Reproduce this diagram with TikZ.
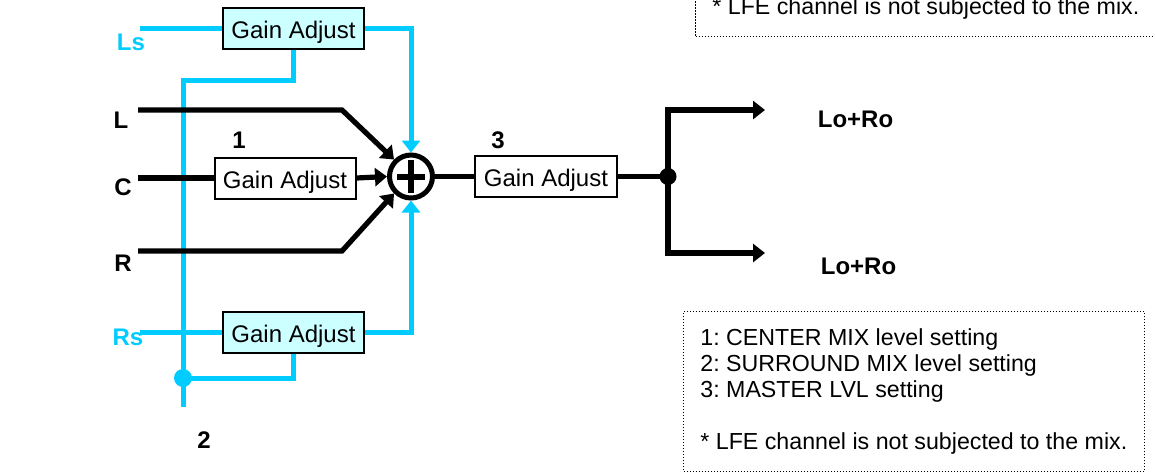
\documentclass[tikz,border=0pt]{standalone}
\usepackage{fontspec}
\setmainfont{Liberation Sans}
\usepackage{tikz}
\usetikzlibrary{arrows.meta,positioning}
\definecolor{mxsurround}{HTML}{00CCFF}
\definecolor{mxsurroundsoft}{HTML}{CCFFFF}
\newcommand{\mixnotes}{1: CENTER MIX level setting\\2: SURROUND MIX level setting\\3: MASTER LVL setting\\[13pt]* LFE channel is not subjected to the mix.}
\tikzset{
  gain/.style={draw=black,line width=1pt,fill=white,minimum width=70.5pt,minimum height=20.5pt,
    inner sep=0pt,text height=10pt,text depth=0pt,font=\fontsize{12}{14}\selectfont},
  gainsurr/.style={gain,fill=mxsurroundsoft},
  chan/.style={inner sep=0pt,font=\fontsize{12}{14}\selectfont\bfseries},
  chansurr/.style={chan,text=mxsurround},
  summer/.style={circle,draw=black,line width=2.5pt,minimum size=21.5pt,inner sep=0pt},
  junction/.style={circle,fill=black,minimum size=8.5pt,inner sep=0pt},
  junctionsurr/.style={junction,fill=mxsurround,minimum size=9pt},
  sig/.style={draw=black,line width=2.6pt},
  sigflow/.style={sig,-{Triangle[length=6pt,width=9pt]}},
  surr/.style={draw=mxsurround,line width=2.5pt},
  surrflow/.style={surr,-{Triangle[length=6pt,width=9pt]}},
  notebox/.style={draw=black,line width=0.6pt,dash pattern=on 0.6pt off 0.9pt,anchor=north west,
    minimum width=230.5pt,minimum height=79.85pt,inner sep=0pt},
  notetext/.style={align=left,inner sep=0pt,font=\fontsize{11.6}{13}\selectfont\frenchspacing}
}

\begin{document}
\begin{tikzpicture}[x=0.5pt,y=-0.5pt]
    \clip (0,0) rectangle (1155,473);
    \node[gainsurr] (gLs) at (293.5,28.5) {Gain Adjust};
    \node[gain] (gC) at (285,178) {Gain Adjust};
    \node[gainsurr] (gRs) at (293.5,332.5) {Gain Adjust};
    \node[summer] (sum) at (411,176.5) {};
    \node[gain,minimum width=71pt] (gM) at (546,176.5) {Gain Adjust};
    \node[junction] (split) at (668,176.5) {};
    \node[junctionsurr] (tap) at (183,378) {};
    \coordinate (inLs) at (140,28.5);
    \coordinate (inL) at (138,110);
    \coordinate (inC) at (138,178);
    \coordinate (inR) at (138,251);
    \coordinate (inRs) at (140,332.5);
    \coordinate (kneeL) at (342,110);
    \coordinate (kneeR) at (342,251);
    \coordinate (busTop) at (183,80);
    \coordinate (busEnd) at (183,407);
    \coordinate (outTop) at (765,110);
    \coordinate (outBot) at (765,253);

    \node[chan] (labL) at (121,120) {L};
    \node[chan] (labC) at (123,187) {C};
    \node[chan] (labR) at (123,263) {R};
    \node[chansurr] (labLs) at (131,42) {Ls};
    \node[chansurr] (labRs) at (128,337) {Rs};
    \node[chan] (num1) at (239,140) {1};
    \node[chan] (num2) at (204,440) {2};
    \node[chan] (num3) at (498,140) {3};
    \node[chan] (outA) at (855.5,119.5) {Lo+Ro};
    \node[chan] (outB) at (858.5,266) {Lo+Ro};

    \draw[surr] (inLs) -- (gLs.west);
    \draw[surrflow] (gLs.east) -| (sum.north);
    \draw[surr] (gLs.south) |- (busTop) -- (busEnd);
    \draw[surr] (inRs) -- (gRs.west);
    \draw[surrflow] (gRs.east) -| (sum.south);
    \draw[surr] (gRs.south) |- (tap.center);

    \draw[sigflow] (inL) -- (kneeL) -- (sum.135);
    \draw[sig] (inC) -- (gC.west);
    \draw[sigflow] (gC.east) -- (sum.west);
    \draw[sigflow] (inR) -- (kneeR) -- (sum.225);
    \draw[line width=3pt] (sum.center) +(-14,0) -- +(14,0) +(0,-16.5) -- +(0,16.5);
    \draw[sig] (sum.east) -- (gM.west);
    \draw[sig] (gM.east) -- (split.center);
    \draw[sigflow] (split.center) |- (outTop);
    \draw[sigflow] (split.center) |- (outBot);

    \node[notebox] (notes) at (683,311) {};
    \node[notetext,right=8.5pt of notes.west] (notesText) {\mixnotes};
    \node[notebox] (notesTop) at (695,-123.5) {};
    \node[notetext,right=8.5pt of notesTop.west] (notesTopText) {\mixnotes};
\end{tikzpicture}
\end{document}
